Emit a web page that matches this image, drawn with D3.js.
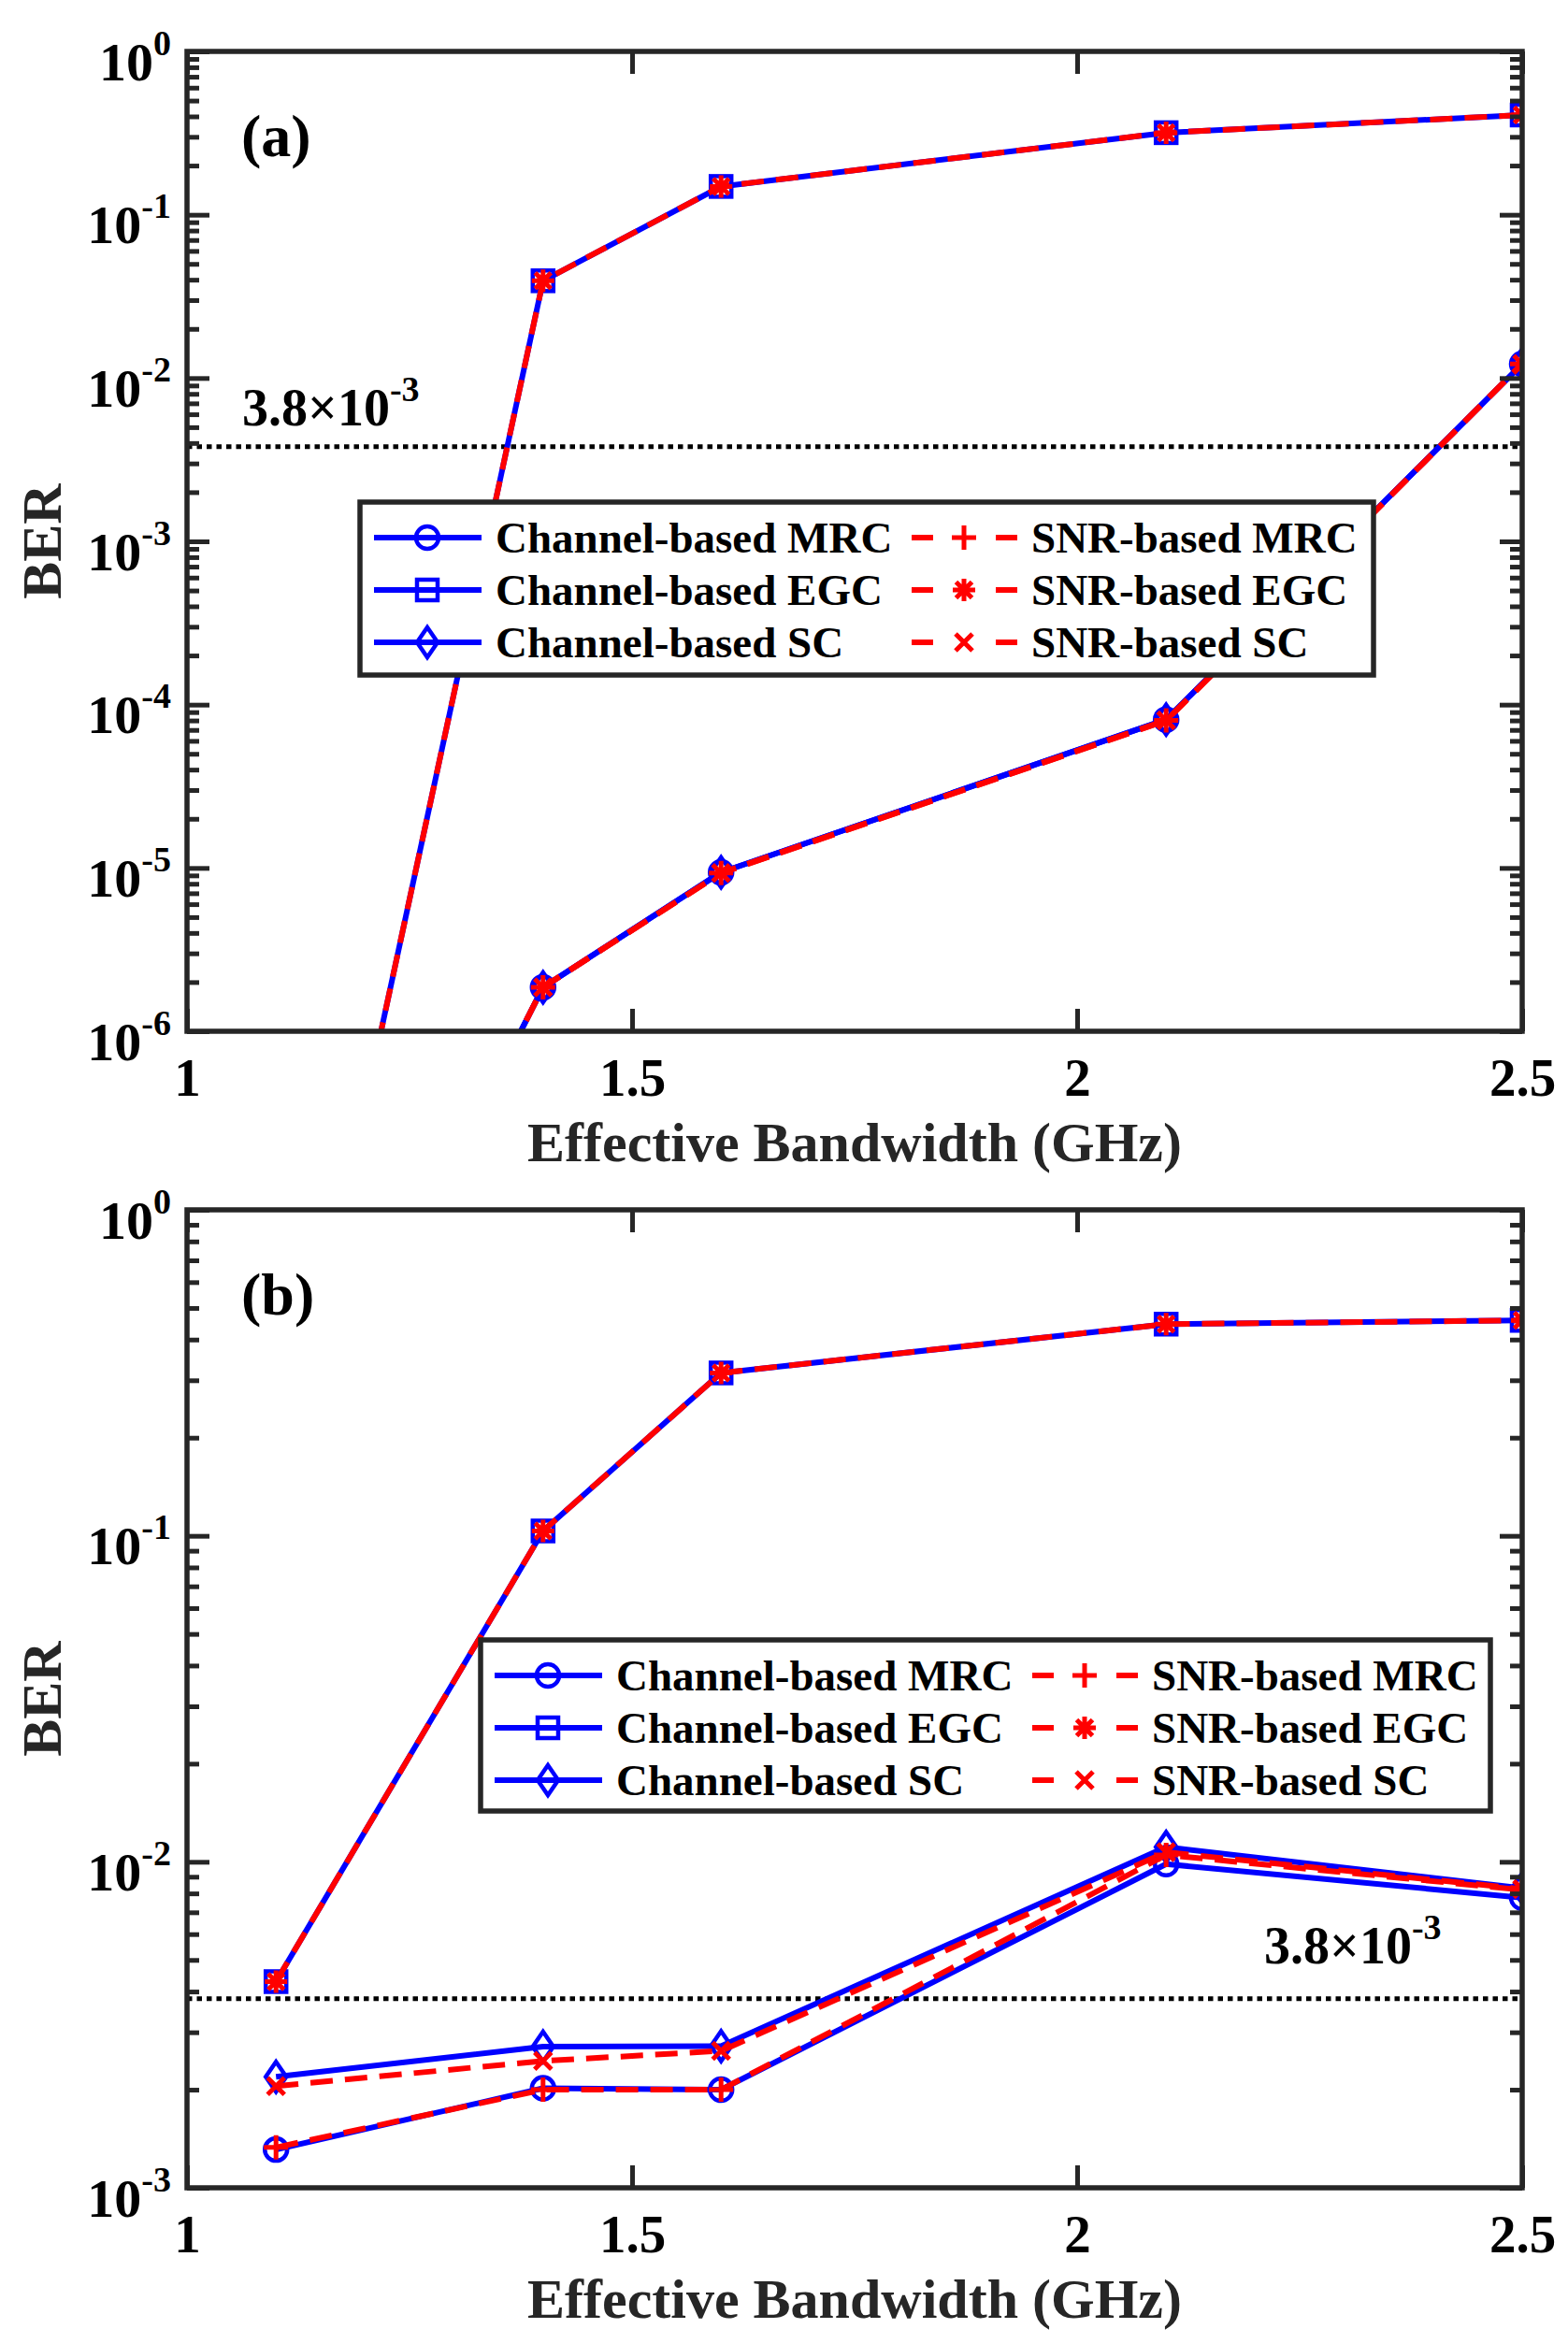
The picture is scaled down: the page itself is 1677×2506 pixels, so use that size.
<!DOCTYPE html>
<html><head><meta charset="utf-8">
<script src="https://cdn.jsdelivr.net/npm/d3@7"></script>
<style>body{margin:0;background:#fff}</style>
</head><body>
<svg id="chart" width="1677" height="2506" xmlns="http://www.w3.org/2000/svg"></svg>
<script>
// ---------------- data ----------------
const xValues = [1.1, 1.4, 1.6, 2.1, 2.5];
const xTickValues = [1, 1.5, 2, 2.5];
const xTickLabels = ["1", "1.5", "2", "2.5"];
const thresholdBER = 3.8e-3;
const thresholdMantissa = "3.8×10";
const thresholdExponent = "-3";
const seriesNames = ["Channel-based MRC", "Channel-based EGC", "Channel-based SC",
                     "SNR-based MRC", "SNR-based EGC", "SNR-based SC"];
const xAxisTitle = "Effective Bandwidth (GHz)";
const yAxisTitle = "BER";

// panel (a)
const aExponents = [0, -1, -2, -3, -4, -5, -6];
const aChannelMRC = [1.1e-9, 1.86e-6, 9.4e-6, 8.1e-5, 0.0122];
const aChannelEGC = [1.05e-9, 0.0394, 0.149, 0.318, 0.408];
const aChannelSC  = [1.1e-9, 1.86e-6, 9.4e-6, 8.1e-5, 0.0122];
const aSnrMRC     = [1.1e-9, 1.86e-6, 9.3e-6, 8.0e-5, 0.0122];
const aSnrEGC     = [1.05e-9, 0.0394, 0.149, 0.318, 0.408];
const aSnrSC      = [1.1e-9, 1.86e-6, 9.3e-6, 8.0e-5, 0.0122];

// panel (b)
const bExponents = [0, -1, -2, -3];
const bChannelMRC = [1.31e-3, 2.02e-3, 2.0e-3, 9.84e-3, 7.76e-3];
const bChannelEGC = [4.29e-3, 0.1035, 0.316, 0.446, 0.458];
const bChannelSC  = [2.19e-3, 2.71e-3, 2.72e-3, 1.11e-2, 8.3e-3];
const bSnrMRC     = [1.33e-3, 2.0e-3, 2.0e-3, 1.05e-2, 8.2e-3];
const bSnrEGC     = [4.29e-3, 0.1035, 0.316, 0.446, 0.458];
const bSnrSC      = [2.05e-3, 2.45e-3, 2.63e-3, 1.07e-2, 8.25e-3];

// ---------------- styling ----------------
const FONT = "'Liberation Serif','Times New Roman',serif";
const AX = "#262626";
const BLUE = "#0000ff", RED = "#ff0000";
const markerTypes = ["o", "s", "d", "+", "*", "x"];

const panels = [
  { id: "a", tag: "(a)", top: 55, bottom: 1103, exps: aExponents,
    series: [aChannelMRC, aChannelEGC, aChannelSC, aSnrMRC, aSnrEGC, aSnrSC],
    legend: { x: 385, y: 537, w: 1084, h: 185 },
    thrLabel: { x: 259, dy: -23 } },
  { id: "b", tag: "(b)", top: 1294, bottom: 2340, exps: bExponents,
    series: [bChannelMRC, bChannelEGC, bChannelSC, bSnrMRC, bSnrEGC, bSnrSC],
    legend: { x: 514, y: 1754, w: 1080, h: 183 },
    thrLabel: { x: 1352, dy: -38 } }
];
const LEFT = 200, RIGHT = 1628;

const svg = d3.select("#chart");
svg.append("rect").attr("width", 1677).attr("height", 2506).attr("fill", "#fff");

function drawMarker(g, type, cx, cy, color) {
  const m = g.append("g").attr("transform", `translate(${cx},${cy})`);
  if (type === "o") {
    m.append("circle").attr("r", 12).attr("fill", "none").attr("stroke", color).attr("stroke-width", 4.5);
  } else if (type === "s") {
    m.append("rect").attr("x", -11).attr("y", -11).attr("width", 22).attr("height", 22)
      .attr("fill", "none").attr("stroke", color).attr("stroke-width", 4.5);
  } else if (type === "d") {
    m.append("path").attr("d", "M0,-16L11,0L0,16L-11,0Z").attr("fill", "none")
      .attr("stroke", color).attr("stroke-width", 4.5);
  } else if (type === "+") {
    m.append("path").attr("d", "M-13,0H13M0,-13V13").attr("stroke", color).attr("stroke-width", 5);
  } else if (type === "*") {
    m.append("path").attr("d", "M-12,0H12M0,-12V12M-8.5,-8.5L8.5,8.5M-8.5,8.5L8.5,-8.5")
      .attr("stroke", color).attr("stroke-width", 5);
  } else if (type === "x") {
    m.append("path").attr("d", "M-9,-9L9,9M-9,9L9,-9").attr("stroke", color).attr("stroke-width", 5);
  }
}

function powText(sel, mant, exp, size, supSize, supDy) {
  sel.append("tspan").text(mant).attr("font-size", size);
  sel.append("tspan").text(exp).attr("font-size", supSize).attr("dy", supDy);
}

panels.forEach(p => {
  const x = d3.scaleLinear().domain([1, 2.5]).range([LEFT, RIGHT]);
  const yMin = Math.pow(10, d3.min(p.exps)), yMax = Math.pow(10, d3.max(p.exps));
  const y = d3.scaleLog().domain([yMin, yMax]).range([p.bottom, p.top]);
  const g = svg.append("g").attr("font-family", FONT).attr("font-weight", "bold");

  const majors = p.exps.map(e => Math.pow(10, e));
  const minors = [];
  p.exps.slice(1).forEach(e => { for (let k = 2; k <= 9; k++) minors.push(k * Math.pow(10, e)); });

  // clip
  const clipId = "clip-" + p.id;
  svg.append("clipPath").attr("id", clipId).append("rect")
    .attr("x", LEFT).attr("y", p.top).attr("width", RIGHT - LEFT).attr("height", p.bottom - p.top);

  // threshold
  g.append("line").attr("x1", LEFT).attr("x2", RIGHT)
    .attr("y1", y(thresholdBER)).attr("y2", y(thresholdBER))
    .attr("stroke", "#000").attr("stroke-width", 5).attr("stroke-dasharray", "5.5,5");
  const tl = g.append("text").attr("x", p.thrLabel.x).attr("y", y(thresholdBER) + p.thrLabel.dy)
    .attr("fill", "#000");
  powText(tl, thresholdMantissa, thresholdExponent, 56, 38, -26);

  // series
  const line = d3.line().x((d, i) => x(xValues[i])).y(d => y(d));
  const dataG = g.append("g").attr("clip-path", `url(#${clipId})`);
  const order = [0, 1, 2, 3, 4, 5];
  order.forEach(si => {
    const isRed = si >= 3;
    dataG.append("path").datum(p.series[si]).attr("d", line).attr("fill", "none")
      .attr("stroke", isRed ? RED : BLUE).attr("stroke-width", 6)
      .attr("stroke-dasharray", isRed ? "24,13" : null)
      .attr("stroke-linejoin", "round");
    p.series[si].forEach((v, i) => {
      drawMarker(dataG, markerTypes[si], x(xValues[i]), y(v), isRed ? RED : BLUE);
    });
  });

  // axes (ticks inward)
  const axG = g.append("g").attr("color", AX);
  const styleAxis = s => {
    s.select(".domain").remove();
    s.selectAll(".tick line").attr("stroke-width", 5);
  };
  axG.append("g").attr("transform", `translate(${LEFT},0)`)
    .call(d3.axisLeft(y).tickValues(minors).tickSize(-13).tickFormat("")).call(styleAxis);
  axG.append("g").attr("transform", `translate(${RIGHT},0)`)
    .call(d3.axisRight(y).tickValues(minors).tickSize(-13).tickFormat("")).call(styleAxis);
  axG.append("g").attr("transform", `translate(${RIGHT},0)`)
    .call(d3.axisRight(y).tickValues(majors).tickSize(-24).tickFormat("")).call(styleAxis);
  const leftMaj = axG.append("g").attr("transform", `translate(${LEFT},0)`)
    .call(d3.axisLeft(y).tickValues(majors).tickSize(-24).tickFormat("")).call(styleAxis);
  leftMaj.selectAll(".tick").each(function(d) {
    const t = d3.select(this).append("text").attr("x", -17).attr("y", 30)
      .attr("text-anchor", "end").attr("fill", "#000").attr("font-family", FONT).attr("font-weight", "bold");
    powText(t, "10", String(Math.round(Math.log10(d))), 58, 38, -27);
  });
  axG.append("g").attr("transform", `translate(0,${p.top})`)
    .call(d3.axisTop(x).tickValues(xTickValues).tickSize(-24).tickFormat("")).call(styleAxis);
  const bot = axG.append("g").attr("transform", `translate(0,${p.bottom})`)
    .call(d3.axisBottom(x).tickValues(xTickValues).tickSize(-24).tickPadding(29)
      .tickFormat((d, i) => xTickLabels[i])).call(styleAxis);
  bot.selectAll(".tick text").attr("font-size", 57).attr("font-family", FONT)
    .attr("font-weight", "bold").attr("fill", "#000");

  // box
  g.append("rect").attr("x", LEFT).attr("y", p.top).attr("width", RIGHT - LEFT)
    .attr("height", p.bottom - p.top).attr("fill", "none").attr("stroke", AX).attr("stroke-width", 5.5);

  // titles
  g.append("text").attr("x", (LEFT + RIGHT) / 2).attr("y", p.bottom + 139)
    .attr("text-anchor", "middle").attr("font-size", 60).attr("fill", AX).text(xAxisTitle);
  g.append("text").attr("transform", `translate(65,${(p.top + p.bottom) / 2}) rotate(-90)`)
    .attr("text-anchor", "middle").attr("font-size", 60).attr("fill", AX).text(yAxisTitle);
  g.append("text").attr("x", 258).attr("y", p.top + 112).attr("font-size", 64).attr("fill", "#000").text(p.tag);

  // legend
  const L = p.legend;
  const lg = g.append("g");
  lg.append("rect").attr("x", L.x).attr("y", L.y).attr("width", L.w).attr("height", L.h)
    .attr("fill", "#fff").attr("stroke", AX).attr("stroke-width", 5.5);
  const rowsY = [L.y + 38, L.y + 94, L.y + 150];
  for (let r = 0; r < 3; r++) {
    const cy = rowsY[r];
    lg.append("line").attr("x1", L.x + 15).attr("x2", L.x + 130).attr("y1", cy).attr("y2", cy)
      .attr("stroke", BLUE).attr("stroke-width", 6);
    drawMarker(lg, markerTypes[r], L.x + 72, cy, BLUE);
    lg.append("text").attr("x", L.x + 145).attr("y", cy + 16).attr("font-size", 47)
      .attr("fill", "#000").text(seriesNames[r]);
    lg.append("line").attr("x1", L.x + 590).attr("x2", L.x + 703).attr("y1", cy).attr("y2", cy)
      .attr("stroke", RED).attr("stroke-width", 6).attr("stroke-dasharray", "23,67,23");
    drawMarker(lg, markerTypes[r + 3], L.x + 646, cy, RED);
    lg.append("text").attr("x", L.x + 718).attr("y", cy + 16).attr("font-size", 47)
      .attr("fill", "#000").text(seriesNames[r + 3]);
  }
});
</script>
</body></html>
